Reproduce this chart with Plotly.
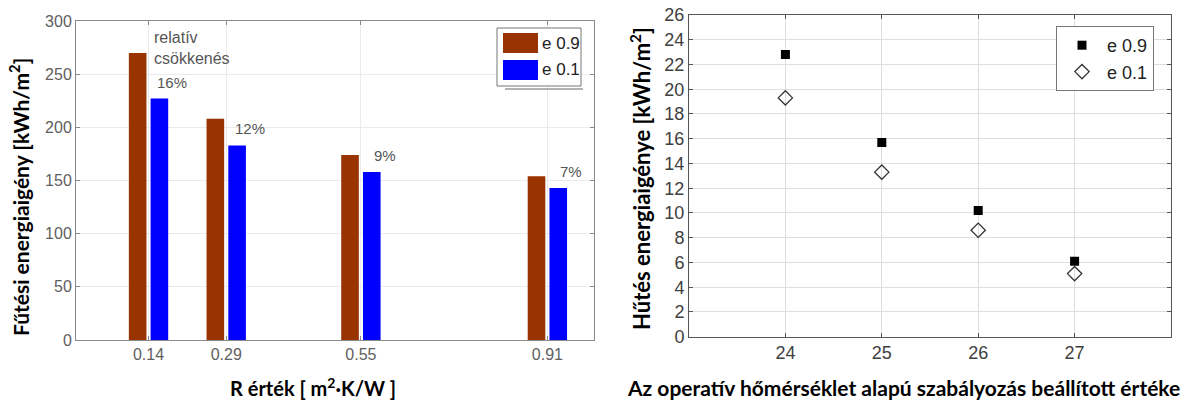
import plotly.graph_objects as go

# --- Left panel: heating energy demand vs. R value ---
r_values = [0.14, 0.29, 0.55, 0.91]
r_ticklabels = ["0.14", "0.29", "0.55", "0.91"]
heat_e09 = [270, 208, 174, 154]
heat_e01 = [227, 183, 158, 143]

# --- Right panel: cooling energy demand vs. set point ---
setpoints = [24, 25, 26, 27]
cool_e09 = [22.8, 15.7, 10.2, 6.1]
cool_e01 = [19.3, 13.3, 8.6, 5.1]

series_names = ["e 0.9", "e 0.1"]

W, H = 1193, 403
BROWN = "#993300"
BLUE = "#0000ff"
TICK_FONT = "Liberation Sans, Arial, sans-serif"
TITLE_FONT = "Lato, sans-serif"


def px(x, y):
    """Convert pixel position to paper coordinates."""
    return x / W, 1 - y / H


fig = go.Figure()

bar_w = 0.034
fig.add_trace(go.Bar(x=r_values, y=heat_e09, name=series_names[0], offset=-0.038,
                     width=bar_w, marker=dict(color=BROWN, line=dict(width=0)),
                     xaxis="x", yaxis="y", showlegend=False))
fig.add_trace(go.Bar(x=r_values, y=heat_e01, name=series_names[1], offset=0.004,
                     width=bar_w, marker=dict(color=BLUE, line=dict(width=0)),
                     xaxis="x", yaxis="y", showlegend=False))

fig.add_trace(go.Scatter(x=setpoints, y=cool_e09, name=series_names[0], mode="markers",
                         marker=dict(symbol="square", size=9, color="black"),
                         xaxis="x2", yaxis="y2"))
fig.add_trace(go.Scatter(x=setpoints, y=cool_e01, name=series_names[1], mode="markers",
                         marker=dict(symbol="diamond-open", size=11, color="#333333",
                                     line=dict(width=1.3)),
                         xaxis="x2", yaxis="y2"))

annotations = []

# relative reduction labels above the e 0.1 bars
for r, a, b in zip(r_values, heat_e09, heat_e01):
    pct = round((a - b) / a * 100)
    annotations.append(dict(x=r + 0.021, y=b, xref="x", yref="y", text=f"{pct}%",
                            showarrow=False, xanchor="center", yanchor="bottom",
                            xshift=13, yshift=6,
                            font=dict(family=TICK_FONT, size=15, color="#555555")))

rx, ry = px(152, 27)
annotations.append(dict(x=rx, y=ry, xref="paper", yref="paper",
                        text="relatív<br>csökkenés", showarrow=False, align="left",
                        xanchor="left", yanchor="top",
                        font=dict(family=TICK_FONT, size=16, color="#555555")))


def title(x, y, text, size, angle=0):
    tx, ty = px(x, y)
    annotations.append(dict(x=tx, y=ty, xref="paper", yref="paper", textangle=angle,
                            text=text, showarrow=False, xanchor="center", yanchor="middle",
                            font=dict(family=TITLE_FONT, size=size, color="black",
                                      weight="bold")))


title(19, 197, "Fűtési energiaigény [kWh/m<sup>2</sup>]", 21, -90)
title(313, 387, "R érték [ m<sup>2</sup>·K/W ]", 20)
title(640, 179, "Hűtés energiaigénye [kWh/m<sup>2</sup>]", 22, -90)
title(903, 387, "Az operatív hőmérséklet alapú szabályozás beállított értéke", 21)

# legend of the bar panel
shapes = []
x0, y0 = px(497, 28)
x1, y1 = px(581, 86)
shapes.append(dict(type="rect", xref="paper", yref="paper", x0=x0, y0=y0, x1=x1, y1=y1,
                   line=dict(color="#777777", width=1), fillcolor="white", layer="above"))
sx0, sy0 = px(505, 89)
sx1, _ = px(583, 89)
shapes.append(dict(type="line", xref="paper", yref="paper", x0=sx0, y0=sy0, x1=sx1, y1=sy0,
                   line=dict(color="#999999", width=1.5), layer="above"))
for i, (name, col) in enumerate(zip(series_names, [BROWN, BLUE])):
    top = 33 + i * 27
    a0, b0 = px(503, top)
    a1, b1 = px(538, top + 20)
    shapes.append(dict(type="rect", xref="paper", yref="paper", x0=a0, y0=b0, x1=a1, y1=b1,
                       line=dict(width=0), fillcolor=col, layer="above"))
    lx, ly = px(540, top + 10)
    annotations.append(dict(x=lx, y=ly, xref="paper", yref="paper", text=name,
                            showarrow=False, xanchor="left", yanchor="middle",
                            font=dict(family=TICK_FONT, size=17, color="#222222")))

dx0, dx1 = 76 / W, 594 / W
dy0, dy1 = 1 - 340 / H, 1 - 21 / H
ex0, ex1 = 689 / W, 1171 / W
ey0, ey1 = 1 - 336.7 / H, 1 - 15 / H

common = dict(showline=True, mirror="ticks", ticks="inside", ticklen=4, showgrid=True,
              zeroline=False, automargin=False)

lg, rg = px(1056, 26)
fig.update_layout(
    width=W, height=H, margin=dict(l=0, r=0, t=0, b=0, autoexpand=False),
    paper_bgcolor="white", plot_bgcolor="white",
    barmode="overlay",
    xaxis=dict(domain=[dx0, dx1], range=[0, 1], tickvals=r_values, ticktext=r_ticklabels,
               anchor="y", linecolor="#8a8a8a", gridcolor="#ebebeb", tickcolor="#8a8a8a",
               tickfont=dict(family=TICK_FONT, size=16, color="#606060"), **common),
    yaxis=dict(domain=[dy0, dy1], range=[0, 300], dtick=50, anchor="x",
               linecolor="#8a8a8a", gridcolor="#ebebeb", tickcolor="#8a8a8a",
               tickfont=dict(family=TICK_FONT, size=16, color="#606060"), **common),
    xaxis2=dict(domain=[ex0, ex1], range=[23, 28], tickvals=setpoints, anchor="y2",
                linecolor="#555555", gridcolor="#dedede", tickcolor="#555555",
                tickfont=dict(family=TICK_FONT, size=18, color="#404040"), **common),
    yaxis2=dict(domain=[ey0, ey1], range=[0, 26], dtick=2, anchor="x2",
                linecolor="#555555", gridcolor="#dedede", tickcolor="#555555",
                tickfont=dict(family=TICK_FONT, size=18, color="#404040"), **common),
    legend=dict(x=lg, y=rg, xanchor="left", yanchor="top", bgcolor="white",
                bordercolor="#777777", borderwidth=1, itemwidth=40, tracegroupgap=0,
                font=dict(family=TICK_FONT, size=18, color="#222222")),
    annotations=annotations,
    shapes=shapes,
)

fig.write_html("out.html")
